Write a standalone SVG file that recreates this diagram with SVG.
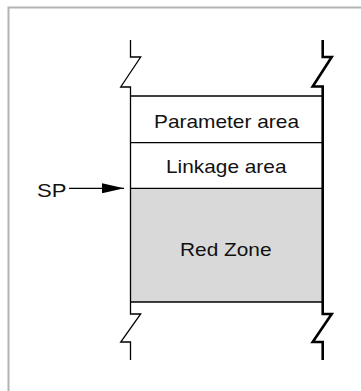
<svg xmlns="http://www.w3.org/2000/svg" width="361" height="391" viewBox="0 0 361 391">
<style>
.lbl{font-family:"Liberation Sans",Arial,sans-serif;font-size:19px;fill:#111;text-anchor:start}
.thin{fill:none;stroke:#000;stroke-width:1.3}
.thick{fill:none;stroke:#000;stroke-width:2.6}
</style>
<defs>
<marker id="ah" markerWidth="22" markerHeight="10" refX="22" refY="5" orient="auto" markerUnits="userSpaceOnUse">
<path d="M0,0 L22,5 L0,10 Z" fill="#000"/>
</marker>
</defs>
<rect width="361" height="391" fill="#fff"/>
<path d="M8.5,391 V7.5 H361" fill="none" stroke="#b3b3b3" stroke-width="2"/>
<g id="stack">
<rect x="130.5" y="188.3" width="192" height="113.7" fill="#d9d9d9"/>
<path class="thin" d="M130.5,40 V57 H140.7 L120.7,87 H130.5 V302"/>
<path class="thin" d="M130.5,302 V314 H140.7 L120.7,342 H130.5 V360"/>
<path class="thick" d="M322.7,40 V57 H331.7 L312.7,86.5 H322.7 V302"/>
<path class="thick" d="M322.7,302 V314 H331.7 L312.7,342 H322.7 V360"/>
</g>
<g id="parameter-area">
<line class="thin" x1="130.5" y1="96" x2="322" y2="96"/>
<text class="lbl" x="154" y="128" textLength="145" lengthAdjust="spacingAndGlyphs">Parameter area</text>
</g>
<g id="linkage-area">
<line class="thin" x1="130.5" y1="142.7" x2="322" y2="142.7"/>
<text class="lbl" x="166" y="173" textLength="120.5" lengthAdjust="spacingAndGlyphs">Linkage area</text>
</g>
<g id="red-zone">
<line class="thin" x1="130.5" y1="188.3" x2="322" y2="188.3"/>
<line class="thin" x1="130.5" y1="302" x2="322" y2="302"/>
<text class="lbl" x="180" y="256.3" textLength="91.5" lengthAdjust="spacingAndGlyphs">Red Zone</text>
</g>
<g id="sp">
<text class="lbl" x="37" y="197.3" textLength="29.5" lengthAdjust="spacingAndGlyphs">SP</text>
</g>
<g id="connectors">
<line x1="69" y1="188.3" x2="124" y2="188.3" stroke="#000" stroke-width="1.3" marker-end="url(#ah)"/>
</g>
</svg>
